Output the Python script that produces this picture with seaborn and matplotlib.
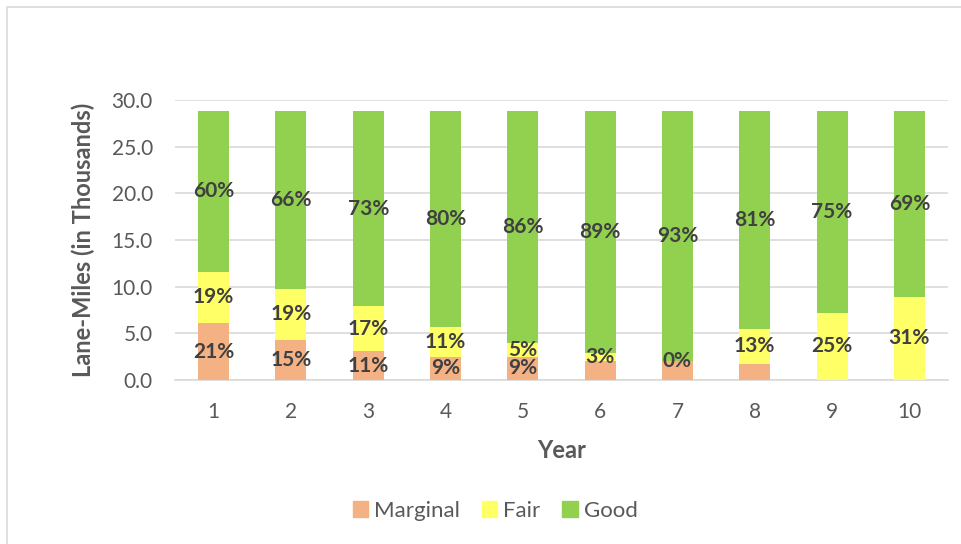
import matplotlib
matplotlib.use("Agg")
import matplotlib.pyplot as plt
import matplotlib.patches as mpatches
import seaborn as sns
import numpy as np
import pandas as pd

years = ["1", "2", "3", "4", "5", "6", "7", "8", "9", "10"]
marginal = [6.1, 4.3, 3.1, 2.5, 2.5, 2.0, 2.0, 1.7, 0.0, 0.0]
fair = [5.5, 5.5, 4.8, 3.2, 1.5, 0.9, 0.0, 3.8, 7.2, 8.9]
good = [17.2, 19.0, 20.9, 23.1, 24.8, 25.9, 26.8, 23.3, 21.6, 19.9]
marginal_labels = ["21%", "15%", "11%", "9%", "9%", "", "", "", "", ""]
fair_labels = ["19%", "19%", "17%", "11%", "5%", "3%", "0%", "13%", "25%", "31%"]
good_labels = ["60%", "66%", "73%", "80%", "86%", "89%", "93%", "81%", "75%", "69%"]
series_names = ["Marginal", "Fair", "Good"]
colors = ["#F4B183", "#FFFF66", "#92D050"]
yticks = [0, 5, 10, 15, 20, 25, 30]

sns.set_theme(style="white")
plt.rcParams["font.family"] = ["Lato", "DejaVu Sans"]

fig = plt.figure(figsize=(9.61, 5.44), dpi=100)
ax = fig.add_axes([175 / 961, 1 - 380 / 544, (948 - 175) / 961, 280 / 544])

df = pd.DataFrame({"Year": years, "Marginal": marginal, "Fair": fair, "Good": good})
bottoms = np.zeros(len(years))
label_sets = [marginal_labels, fair_labels, good_labels]
for name, col, labs in zip(series_names, colors, label_sets):
    vals = df[name].to_numpy()
    n_before = len(ax.patches)
    sns.barplot(x=df["Year"], y=vals, color=col, width=0.4, ax=ax, saturation=1)
    new = ax.patches[n_before:]
    for p, b in zip(new, bottoms):
        p.set_y(b)
        p.set_zorder(3)
        p.set_edgecolor("none")
    for i, (v, b, t) in enumerate(zip(vals, bottoms, labs)):
        if t:
            ax.text(i, b + v / 2, t, ha="center", va="center", fontsize=15,
                    fontweight="bold", color="#404040", zorder=5)
    bottoms = bottoms + vals

ax.set_ylim(0, 30)
ax.set_xlim(-0.5, len(years) - 0.5)
ax.set_yticks(yticks)
ax.set_yticklabels([f"{v:.1f}" for v in yticks])
ax.yaxis.grid(True, color="#D9D9D9", linewidth=1.2, zorder=0)
ax.set_axisbelow(True)
for s in ["top", "right", "left"]:
    ax.spines[s].set_visible(False)
ax.spines["bottom"].set_color("#D9D9D9")
ax.spines["bottom"].set_linewidth(1.2)
ax.tick_params(axis="both", length=0, labelsize=15, colors="#595959", pad=16)
ax.set_xlabel("Year", fontsize=17, fontweight="bold", color="#595959", labelpad=12)
ax.set_ylabel("Lane-Miles (in Thousands)", fontsize=17, fontweight="bold",
              color="#595959", labelpad=12)

handles = [mpatches.Patch(color=c, label=n) for n, c in zip(series_names, colors)]
fig.legend(handles=handles, loc="center", bbox_to_anchor=(495 / 961, 1 - 511 / 544),
           ncol=3, frameon=False, fontsize=16, handlelength=0.7, handleheight=0.7,
           columnspacing=1.0, handletextpad=0.25, labelcolor="#595959")

fig.patches.append(mpatches.Rectangle((7 / 961, -0.05), 1.1, 1 - 7 / 544 + 0.05,
                                      transform=fig.transFigure, fill=False,
                                      edgecolor="#D9D9D9", linewidth=1.2))

fig.savefig("out.png", dpi=100)
